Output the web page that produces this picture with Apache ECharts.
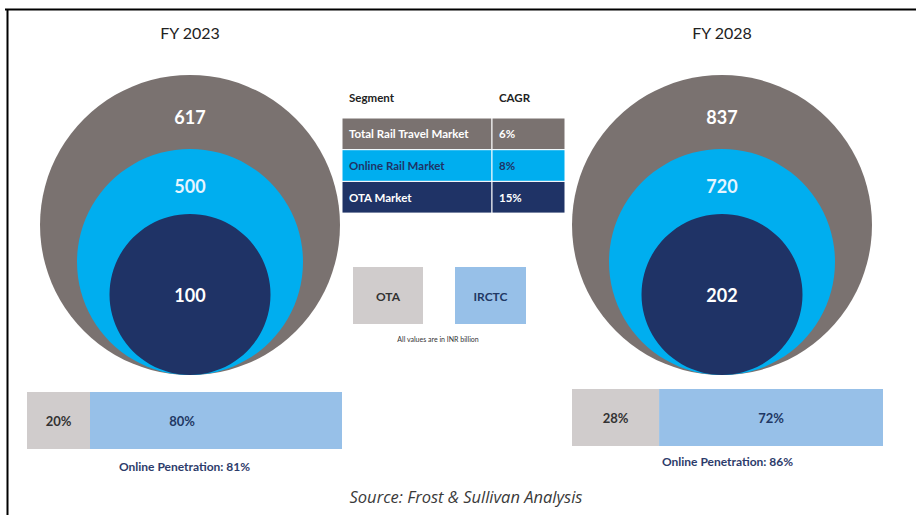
<!DOCTYPE html>
<html>
<head>
<meta charset="utf-8">
<title>Rail travel market – FY 2023 vs FY 2028</title>
<script src="https://cdn.jsdelivr.net/npm/echarts@6/dist/echarts.min.js"></script>
<style>
  html, body { margin: 0; padding: 0; background: #ffffff; }
  #chart { width: 916px; height: 515px; }
</style>
</head>
<body>
<div id="chart"></div>
<script>
// ---- data (INR billion) ----
const years = ['FY 2023', 'FY 2028'];
const segments = ['Total Rail Travel Market', 'Online Rail Market', 'OTA Market'];
const cagr = ['6%', '8%', '15%'];
const totalRail = [617, 837];
const onlineRail = [500, 720];
const otaMarket = [100, 202];
const channels = ['OTA', 'IRCTC'];
const otaShare = [20, 28];
const irctcShare = [80, 72];
const penetration = [81, 86];
const unitNote = 'All values are in INR billion';
const sourceNote = 'Source: Frost & Sullivan Analysis';

// ---- styling ----
const FONT = 'Lato, "Open Sans", sans-serif';
const segColors = ['#7a7270', '#00aeef', '#1f3366'];
const segLabelColors = ['#ffffff', '#e6f5ff', '#ffffff'];
const circleDiam = [300, 226, 161];
const labelLift = [-108, -76, 0];
const shareColors = ['#d0cccc', '#97c0e8'];
const shareTextColors = ['#333333', '#1f3864'];
const shareGrids = [
  { left: 27, top: 392, width: 315, height: 57, nameGap: 11, irctcShift: [-34, 0] },
  { left: 572, top: 389, width: 311, height: 57, nameGap: 9, irctcShift: [0, 0] }
];
const tableRowText = ['#ffffff', '#1f3366', '#ffffff'];

const marketSeries = [totalRail, onlineRail, otaMarket];

// the circle grid is wider than the canvas so that the two year bands centre on each panel
const grids = [{ left: -76, width: 1064, top: 50, bottom: 140, outerBoundsMode: 'none', containLabel: false }];
const xAxes = [{
  type: 'category', gridIndex: 0, data: years, position: 'top',
  axisLine: { show: false }, axisTick: { show: false }, splitLine: { show: false },
  axisLabel: { margin: 10, fontSize: 16, color: '#222222', fontFamily: FONT }
}];
const yAxes = [{ type: 'value', gridIndex: 0, min: 0, max: 1, show: false }];
const series = [];

// nested market circles, all resting on a common baseline
segments.forEach((seg, i) => {
  series.push({
    type: 'scatter', name: seg, xAxisIndex: 0, yAxisIndex: 0, silent: true, z: 2 + i,
    data: years.map((y, j) => [y, 0, marketSeries[i][j]]),
    symbol: 'circle', symbolSize: circleDiam[i], symbolOffset: [0, -circleDiam[i] / 2],
    itemStyle: { color: segColors[i], opacity: 1 },
    label: {
      show: true, position: 'inside', offset: [0, labelLift[i]],
      formatter: p => String(p.value[2]),
      color: segLabelColors[i], fontSize: 18, fontWeight: 'bold', fontFamily: FONT
    },
    emphasis: { disabled: true }
  });
});

// OTA vs IRCTC share bars
const shares = [otaShare, irctcShare];
shareGrids.forEach((g, k) => {
  const gi = k + 1;
  grids.push({ left: g.left, top: g.top, width: g.width, height: g.height, outerBoundsMode: 'none', containLabel: false });
  xAxes.push({
    type: 'value', gridIndex: gi, min: 0, max: 100,
    axisLine: { show: false }, axisTick: { show: false }, axisLabel: { show: false }, splitLine: { show: false },
    name: 'Online Penetration: ' + penetration[k] + '%', nameLocation: 'middle', nameGap: g.nameGap,
    nameTextStyle: { fontSize: 12, fontWeight: 'bold', color: '#2d3c6b', fontFamily: FONT }
  });
  yAxes.push({ type: 'category', gridIndex: gi, data: [years[k]], show: false });
  channels.forEach((ch, c) => {
    series.push({
      type: 'bar', name: ch, xAxisIndex: gi, yAxisIndex: gi, stack: 'share' + k,
      barWidth: '100%', silent: true,
      data: [shares[c][k]],
      itemStyle: { color: shareColors[c] },
      label: {
        show: true, position: 'inside', formatter: '{c}%',
        offset: c === 1 ? g.irctcShift : [0, 0],
        fontSize: 13, fontWeight: 'bold', color: shareTextColors[c], fontFamily: FONT
      },
      emphasis: { disabled: true }
    });
  });
});

// CAGR table, channel key, notes and frame
const graphic = [];
const tbl = { left: 342, split: 492, right: 565, top: 118, rowH: 31.7, headY: 97, pad: 7 };
const tblFont = 'bold 11.5px ' + FONT;
graphic.push(
  { type: 'text', x: tbl.left + tbl.pad, y: tbl.headY, z: 10,
    style: { text: 'Segment', font: tblFont, fill: '#222222', verticalAlign: 'middle' } },
  { type: 'text', x: tbl.split + tbl.pad, y: tbl.headY, z: 10,
    style: { text: 'CAGR', font: tblFont, fill: '#222222', verticalAlign: 'middle' } }
);
segments.forEach((seg, i) => {
  const y = tbl.top + i * tbl.rowH;
  graphic.push(
    { type: 'rect', z: 10, shape: { x: tbl.left, y: y, width: tbl.split - tbl.left, height: tbl.rowH },
      style: { fill: segColors[i], stroke: '#ffffff', lineWidth: 1 } },
    { type: 'rect', z: 10, shape: { x: tbl.split, y: y, width: tbl.right - tbl.split, height: tbl.rowH },
      style: { fill: segColors[i], stroke: '#ffffff', lineWidth: 1 } },
    { type: 'text', z: 11, x: tbl.left + tbl.pad, y: y + tbl.rowH / 2,
      style: { text: seg, font: tblFont, fill: tableRowText[i], verticalAlign: 'middle' } },
    { type: 'text', z: 11, x: tbl.split + tbl.pad, y: y + tbl.rowH / 2,
      style: { text: cagr[i], font: tblFont, fill: tableRowText[i], verticalAlign: 'middle' } }
  );
});

const keyBoxes = [{ x: 353, w: 70 }, { x: 455, w: 71 }];
channels.forEach((ch, c) => {
  const b = keyBoxes[c];
  graphic.push(
    { type: 'rect', z: 10, shape: { x: b.x, y: 267, width: b.w, height: 57 }, style: { fill: shareColors[c] } },
    { type: 'text', z: 11, x: b.x + b.w / 2, y: 296,
      style: { text: ch, font: 'bold 12px ' + FONT, fill: shareTextColors[c], align: 'center', verticalAlign: 'middle' } }
  );
});
graphic.push(
  { type: 'text', z: 10, x: 438, y: 339,
    style: { text: unitNote, font: '7px ' + FONT, fill: '#333333', align: 'center', verticalAlign: 'middle' } },
  { type: 'text', z: 10, x: 466, y: 496,
    style: { text: sourceNote, font: 'italic 16.5px "Open Sans", sans-serif', fill: '#3a3a3a', align: 'center', verticalAlign: 'middle' } },
  { type: 'polyline', z: 10, shape: { points: [[5, 9.5], [916, 9.5]] }, style: { stroke: '#000000', lineWidth: 2 } },
  { type: 'polyline', z: 10, shape: { points: [[7.5, 9], [7.5, 515]] }, style: { stroke: '#000000', lineWidth: 2 } }
);

const chart = echarts.init(document.getElementById('chart'), null, { renderer: 'svg' });
chart.setOption({
  backgroundColor: '#ffffff',
  animation: false,
  textStyle: { fontFamily: FONT },
  grid: grids,
  xAxis: xAxes,
  yAxis: yAxes,
  series: series,
  graphic: graphic
});
</script>
</body>
</html>
